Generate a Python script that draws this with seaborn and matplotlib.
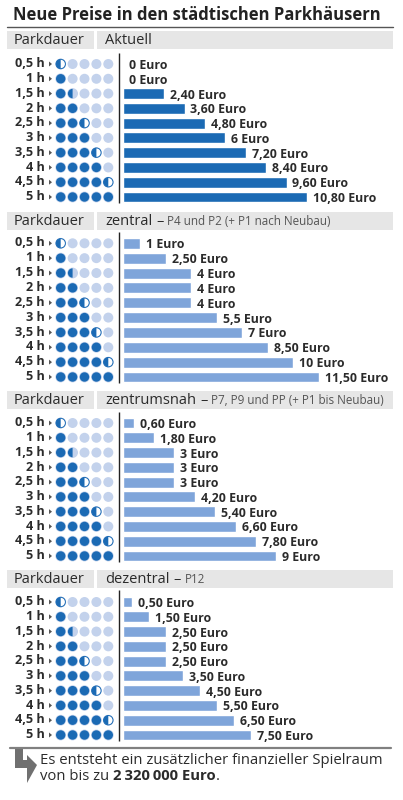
import matplotlib
matplotlib.use("Agg")
import matplotlib.pyplot as plt
from matplotlib.patches import Circle, Wedge, Polygon, Rectangle
import pandas as pd
import seaborn as sns

W, H = 403, 800

durations = ["0,5 h", "1 h", "1,5 h", "2 h", "2,5 h", "3 h", "3,5 h", "4 h", "4,5 h", "5 h"]
hours = [0.5, 1, 1.5, 2, 2.5, 3, 3.5, 4, 4.5, 5]

aktuell = [0, 0, 2.4, 3.6, 4.8, 6, 7.2, 8.4, 9.6, 10.8]
zentral = [1, 2.5, 4, 4, 4, 5.5, 7, 8.5, 10, 11.5]
zentrumsnah = [0.6, 1.8, 3, 3, 3, 4.2, 5.4, 6.6, 7.8, 9]
dezentral = [0.5, 1.5, 2.5, 2.5, 2.5, 3.5, 4.5, 5.5, 6.5, 7.5]

aktuell_labels = ["0 Euro", "0 Euro", "2,40 Euro", "3,60 Euro", "4,80 Euro", "6 Euro",
                  "7,20 Euro", "8,40 Euro", "9,60 Euro", "10,80 Euro"]
zentral_labels = ["1 Euro", "2,50 Euro", "4 Euro", "4 Euro", "4 Euro", "5,5 Euro",
                  "7 Euro", "8,50 Euro", "10 Euro", "11,50 Euro"]
zentrumsnah_labels = ["0,60 Euro", "1,80 Euro", "3 Euro", "3 Euro", "3 Euro", "4,20 Euro",
                      "5,40 Euro", "6,60 Euro", "7,80 Euro", "9 Euro"]
dezentral_labels = ["0,50 Euro", "1,50 Euro", "2,50 Euro", "2,50 Euro", "2,50 Euro", "3,50 Euro",
                    "4,50 Euro", "5,50 Euro", "6,50 Euro", "7,50 Euro"]

DARK = "#1b6ab4"
BAR_LIGHT = "#7fa5da"
HALO = "#c3d2ec"
TEXT = "#2b2b2b"
HEAD_BG = "#e6e6e6"

sns.set_theme(style="white")
plt.rcParams["font.family"] = ["Open Sans", "DejaVu Sans"]

fig = plt.figure(figsize=(W / 100, H / 100), dpi=100, facecolor="white")

# overlay in pixel coordinates for headers, dots and notes
ov = fig.add_axes([0, 0, 1, 1], zorder=3)
ov.set_xlim(0, W)
ov.set_ylim(H, 0)
ov.axis("off")
ov.patch.set_alpha(0)

PX_PER_EURO = 17
BAR_LEFT = 123.3

panels = [
    dict(values=aktuell, labels=aktuell_labels, color=DARK, first=64, last=197,
         head_top=31, line=(53, 203), head="Aktuell", sub=""),
    dict(values=zentral, labels=zentral_labels, color=BAR_LIGHT, first=243.3, last=377,
         head_top=211.5, line=(232, 383), head="zentral", sub="P4 und P2 (+ P1 nach Neubau)"),
    dict(values=zentrumsnah, labels=zentrumsnah_labels, color=BAR_LIGHT, first=423, last=556,
         head_top=390.5, line=(412, 562), head="zentrumsnah", sub="P7, P9 und PP (+ P1 bis Neubau)"),
    dict(values=dezentral, labels=dezentral_labels, color=BAR_LIGHT, first=602, last=735,
         head_top=569.5, line=(590, 741), head="dezentral", sub="P12"),
]


def draw_dots(y, h):
    for k in range(5):
        x = 60.7 + k * 11.9
        if h >= k + 1:
            ov.add_patch(Circle((x, y), 5.4, fc=HALO, ec="none"))
            ov.add_patch(Circle((x, y), 4.7, fc=DARK, ec="none"))
        elif h == k + 0.5:
            ov.add_patch(Circle((x, y), 5.4, fc=HALO, ec="none"))
            if k != 1:
                ov.add_patch(Circle((x, y), 4.7, fc="white", ec=DARK, lw=0.7))
            ov.add_patch(Wedge((x, y), 4.7, 90, 270, fc=DARK, ec="none"))
        else:
            ov.add_patch(Circle((x, y), 5.0, fc=HALO, ec="none"))


for p in panels:
    pitch = (p["last"] - p["first"]) / 9
    top = p["first"] - pitch / 2
    bottom = p["last"] + pitch / 2
    ax = fig.add_axes([BAR_LEFT / W, 1 - bottom / H, (W - BAR_LEFT) / W, (bottom - top) / H], zorder=2)
    df = pd.DataFrame({"dauer": durations, "euro": p["values"]})
    sns.barplot(data=df, y="dauer", x="euro", orient="h", color=p["color"], saturation=1,
                width=0.74, ax=ax)
    ax.set_xlim(0, (W - BAR_LEFT) / PX_PER_EURO)
    ax.axis("off")
    for i, (v, lab) in enumerate(zip(p["values"], p["labels"])):
        ax.text(v + 6 / PX_PER_EURO, i + 0.1, lab, ha="left", va="center",
                fontsize=8.9, fontweight="bold", color=TEXT)

    # header boxes
    ht = p["head_top"]
    ov.add_patch(Rectangle((7, ht), 87, 18, fc=HEAD_BG, ec="none"))
    ov.add_patch(Rectangle((97, ht), 296, 18, fc=HEAD_BG, ec="none"))
    ov.text(14, ht + 9.6, "Parkdauer", ha="left", va="center", fontsize=10.5, color=TEXT)
    t = ov.text(105, ht + 9.6, p["head"], ha="left", va="center", fontsize=10.5, color=TEXT)
    if p["sub"]:
        fig.canvas.draw()
        bb = t.get_window_extent()
        ov.text(bb.x1 + 4, ht + 9.6, "–", ha="left", va="center", fontsize=10.5, color=TEXT)
        ov.text(bb.x1 + 15, ht + 10, p["sub"], ha="left", va="center", fontsize=8.4, color="#555555")

    ov.plot([119.4, 119.4], p["line"], color="#222222", lw=1.0, solid_capstyle="butt")

    for i, (d, h) in enumerate(zip(durations, hours)):
        y = p["first"] + i * pitch
        ov.text(45, y - 0.3, d, ha="right", va="center", fontsize=9.1, fontweight="bold", color=TEXT)
        ov.add_patch(Polygon([(49, y - 2.5), (52, y), (49, y + 2.5)], fc="#555555", ec="none"))
        draw_dots(y, h)

# title and rule
ov.text(13, 14.5, "Neue Preise in den städtischen Parkhäusern", ha="left", va="center",
        fontsize=11.95, fontweight="bold", color="#222222")
ov.plot([7, 393], [27, 27], color="#555555", lw=1.0)

# bottom note
ov.plot([10, 391], [747.5, 747.5], color="#808080", lw=1.6)
ov.add_patch(Polygon([(15, 748), (23, 748), (23, 760), (27, 760), (27, 755), (37, 765),
                      (27, 783), (27, 768), (15, 768)], fc="#707070", ec="none"))
ov.text(40, 760, "Es entsteht ein zusätzlicher finanzieller Spielraum", ha="left", va="center",
        fontsize=10.75, color=TEXT)
t = ov.text(40, 776, "von bis zu", ha="left", va="center", fontsize=10.75, color=TEXT)
fig.canvas.draw()
bb = t.get_window_extent()
t2 = ov.text(bb.x1 + 4, 776, "2\u2009320\u2009000 Euro", ha="left", va="center", fontsize=10.75,
             fontweight="bold", color=TEXT)
fig.canvas.draw()
bb = t2.get_window_extent()
ov.text(bb.x1, 776, ".", ha="left", va="center", fontsize=10.75, color=TEXT)

fig.savefig("out.png", dpi=100)
